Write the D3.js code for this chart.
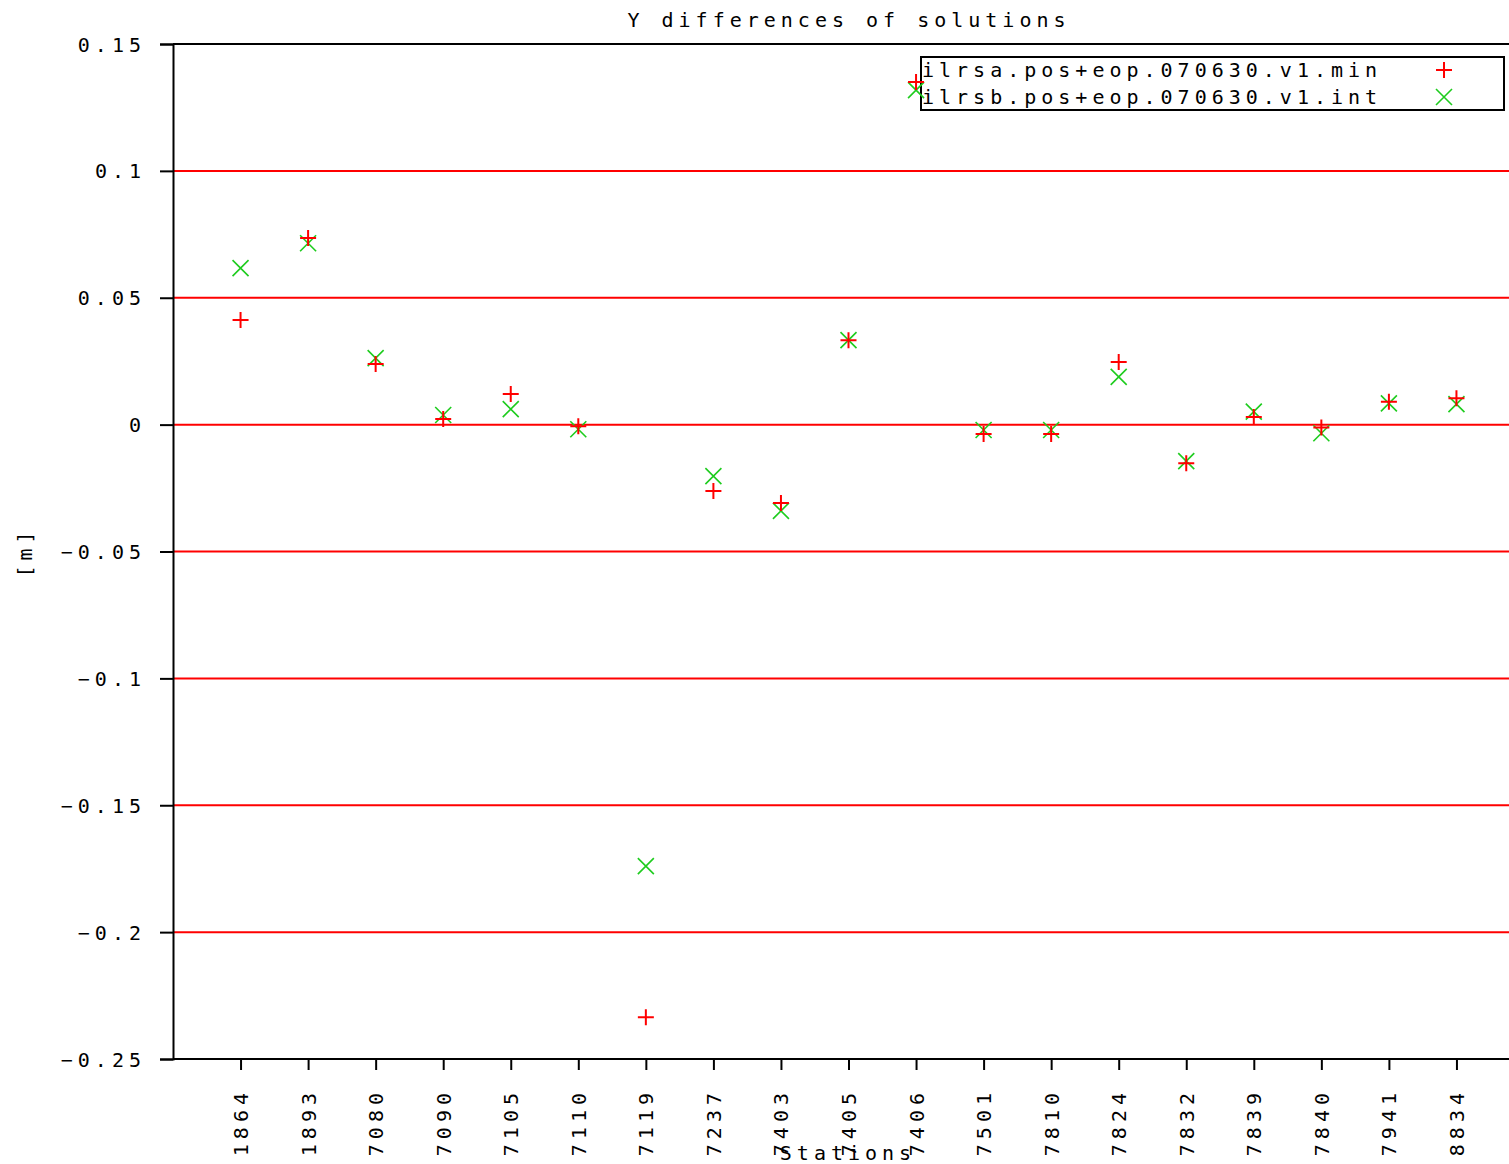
<!DOCTYPE html>
<html><head><meta charset="utf-8">
<script src="https://cdn.jsdelivr.net/npm/d3@7"></script>
<style>
body{margin:0;background:#fff;}
text{font-family:"DejaVu Sans Mono","Liberation Mono",monospace;font-size:20px;letter-spacing:5px;fill:#000;}
</style></head><body>
<svg id="c" width="1509" height="1164"></svg>
<script>
const stations = ["1864","1893","7080","7090","7105","7110","7119","7237","7403","7405","7406","7501","7810","7824","7832","7839","7840","7941","8834"];
const seriesA = [0.0412,0.0735,0.0239,0.0022,0.0121,-0.0006,-0.2335,-0.0262,-0.0309,0.0333,0.1350,-0.0037,-0.0037,0.0247,-0.0152,0.0030,-0.0011,0.0090,0.0104];
const seriesB = [0.0617,0.0715,0.0262,0.0038,0.0061,-0.0018,-0.1740,-0.0203,-0.0340,0.0333,0.1318,-0.0021,-0.0021,0.0188,-0.0144,0.0051,-0.0034,0.0084,0.0081];
const nameA = "ilrsa.pos+eop.070630.v1.min";
const nameB = "ilrsb.pos+eop.070630.v1.int";
const yTicks = [0.15,0.1,0.05,0,-0.05,-0.1,-0.15,-0.2,-0.25];
const gridTicks = [0.1,0.05,0,-0.05,-0.1,-0.15,-0.2];

const svg = d3.select("#c");
const L = 173, T = 44, B = 1059, R = 1524;
const x = d3.scalePoint().domain(stations).range([L, R]).padding(1);
const y = d3.scaleLinear().domain([-0.25, 0.15]).range([B, T]);
const red = "#ff0000", green = "#1ecc1e";

// gridlines
svg.append("g").selectAll("line").data(gridTicks).join("line")
  .attr("x1", L).attr("x2", R).attr("y1", d => y(d)).attr("y2", d => y(d))
  .attr("stroke", red).attr("stroke-width", 2);

// frame
svg.append("line").attr("x1", L).attr("x2", R).attr("y1", T).attr("y2", T).attr("stroke", "#000").attr("stroke-width", 2);
svg.append("line").attr("x1", L).attr("x2", R).attr("y1", B).attr("y2", B).attr("stroke", "#000").attr("stroke-width", 2);

// y axis
const yAxis = d3.axisLeft(y).tickValues(yTicks).tickSize(13).tickPadding(20)
  .tickFormat(d => d === 0 ? "0" : String(d).replace("-", "\u2212"));
const gy = svg.append("g").attr("transform", `translate(${L},0)`).call(yAxis);
gy.select(".domain").attr("stroke", "#000").attr("stroke-width", 2);
gy.selectAll(".tick line").attr("stroke", "#000").attr("stroke-width", 2);
gy.selectAll(".tick text").attr("font-size", null).attr("font-family", null).attr("fill", "#000")
  .attr("x", -27).attr("dy", "0.35em");

// x axis
const xAxis = d3.axisBottom(x).tickSize(11);
const gx = svg.append("g").attr("transform", `translate(0,${B})`).call(xAxis);
gx.select(".domain").remove();
gx.selectAll(".tick line").attr("stroke", "#000").attr("stroke-width", 2);
gx.selectAll(".tick text").attr("font-size", null).attr("font-family", null).attr("fill", "#000")
  .attr("transform", "rotate(-90)").attr("text-anchor", "end")
  .attr("x", -29).attr("y", 0).attr("dy", "0.35em");

// title and labels
svg.append("text").attr("x", 849).attr("y", 27).attr("text-anchor", "middle").text("Y differences of solutions");
svg.append("text").attr("x", 848).attr("y", 1160).attr("text-anchor", "middle").text("Stations");
svg.append("text").attr("transform", "translate(32,552) rotate(-90)").attr("text-anchor", "middle").text("[m]");

// legend
const lg = svg.append("g");
lg.append("rect").attr("x", 921).attr("y", 57).attr("width", 583).attr("height", 53)
  .attr("fill", "none").attr("stroke", "#000").attr("stroke-width", 2);
lg.append("text").attr("x", 922).attr("y", 70).attr("dy", "0.35em").text(nameA);
lg.append("text").attr("x", 922).attr("y", 97).attr("dy", "0.35em").text(nameB);

function plus(g, cx, cy) {
  g.append("path").attr("d", `M${cx-8},${cy}H${cx+8}M${cx},${cy-8}V${cy+8}`)
    .attr("stroke", red).attr("stroke-width", 2).attr("fill", "none");
}
function cross(g, cx, cy) {
  g.append("path").attr("d", `M${cx-8},${cy-8}L${cx+8},${cy+8}M${cx-8},${cy+8}L${cx+8},${cy-8}`)
    .attr("stroke", green).attr("stroke-width", 1.6).attr("fill", "none");
}
plus(lg, 1444, 70);
cross(lg, 1444, 97);

// points
const pts = svg.append("g");
stations.forEach((s, i) => {
  cross(pts, x(s), y(seriesB[i]));
});
stations.forEach((s, i) => {
  plus(pts, x(s), y(seriesA[i]));
});
</script></body></html>
